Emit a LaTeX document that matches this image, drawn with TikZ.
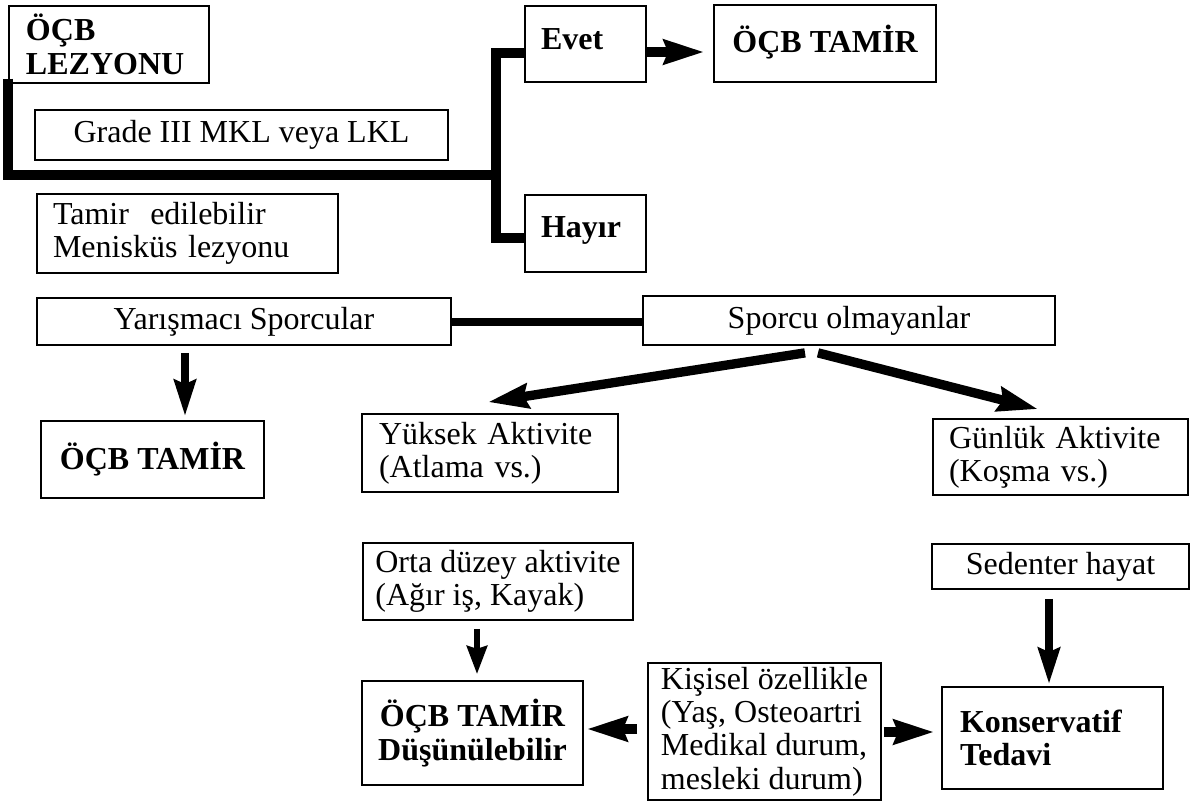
\documentclass[tikz,border=0pt]{standalone}
\usepackage{fontspec}
\setmainfont{Liberation Serif}
\usetikzlibrary{arrows.meta,calc}
\tikzset{
  box/.style={draw, line width=1.3pt, inner ysep=2pt, inner xsep=0pt, align=center,
              font=\fontsize{24}{25}\selectfont},
  bbox/.style={box, font=\fontsize{24}{25}\selectfont\bfseries},
  thk/.style={line width=7.5pt, line join=miter},
  bigarrow/.style={line width=7pt, -{Stealth[length=30pt,width=18pt,inset=3pt]}},
  midarrow/.style={line width=6pt, -{Stealth[length=27pt,width=16pt,inset=3pt]}},
  smallarrow/.style={line width=4.5pt, -{Stealth[length=21pt,width=15pt,inset=2pt]}},
}
\begin{document}
\begin{tikzpicture}[x=0.75pt,y=-0.75pt]
\useasboundingbox (0,0) rectangle (1194,804);

% top section
\node[bbox, minimum width=150pt, minimum height=57.75pt, inner xsep=12.75pt, text width=124.5pt, align=left] (lez) at (109,44.5) {ÖÇB\\LEZYONU};
\node[box, minimum width=309.75pt, minimum height=37.5pt] (grade) at (241.5,135) {Grade III MKL veya LKL};
\node[bbox, minimum width=90.75pt, minimum height=57pt, inner xsep=12pt, text width=66.75pt, align=left, text depth=8pt] (evet) at (585.5,44) {Evet};
\node[bbox, minimum width=166.5pt, minimum height=57.75pt, text depth=7pt] (tamir1) at (825,43.5) {ÖÇB TAMİR};
\node[bbox, minimum width=90.75pt, minimum height=57.75pt, inner xsep=12pt, text width=66.75pt, align=left, text depth=10pt] (hayir) at (585.5,233.5) {Hayır};
\node[box, minimum width=225.75pt, minimum height=59.25pt, inner xsep=12pt, text width=201.75pt, align=left] (tamired) at (187.5,233.5) {Tamir~ edilebilir\\Menisküs lezyonu};

\coordinate (j) at (496,175);
\draw[thk] ([yshift=4pt]lez.south west) |- (j);
\draw[thk] ($(evet.west)+(0,9)$) -| (j) |- ($(hayir.west)+(0,4)$);
\draw[bigarrow] ($(evet.east)+(0,8)$) -- ($(tamir1.west)+(-9,8.5)$);

% middle section
\node[box, minimum width=310.5pt, minimum height=35.25pt] (yaris) at (244,321.5) {Yarışmacı Sporcular};
\node[box, minimum width=309pt, minimum height=36.75pt] (sporcu) at (849,320.5) {Sporcu olmayanlar};
\draw[line width=6pt] (yaris.east) -- (yaris.east -| sporcu.west);

\node[bbox, minimum width=167.25pt, minimum height=57.75pt] (tamir2) at (152.5,459.5) {ÖÇB TAMİR};
\node[box, minimum width=192pt, minimum height=58.5pt, inner xsep=12.75pt, text width=166.5pt, align=left] (yuksek) at (490,453) {Yüksek Aktivite\\(Atlama vs.)};
\node[box, minimum width=191.25pt, minimum height=57pt, inner xsep=12pt, text width=167.25pt, align=left] (gunluk) at (1060.5,457) {Günlük Aktivite\\(Koşma vs.)};

\draw[midarrow] ($(yaris.south)+(-59,7)$) -- ($(tamir2.north)+(32.5,-4)$);
\draw[bigarrow] ($(sporcu.south)+(-44,7)$) -- ($(yuksek.north)+(-2,-11)$);
\draw[bigarrow] ($(sporcu.south)+(-31,7)$) -- ($(gunluk.north)+(-22.5,-9)$);

% bottom section
\node[box, minimum width=202.5pt, minimum height=57.75pt, align=left] (orta) at (498,581.5) {Orta düzey aktivite\\(Ağır iş, Kayak)};
\node[box, minimum width=192.75pt, minimum height=33.75pt] (sed) at (1060.5,566.5) {Sedenter hayat};
\node[bbox, minimum width=165.75pt, minimum height=78pt] (dusun) at (472.5,733) {ÖÇB TAMİR\\Düşünülebilir};
\node[box, minimum width=174.75pt, minimum height=102.75pt, align=left] (kisisel) at (764.5,731.5) {Kişisel özellikle\\(Yaş, Osteoartri\\Medikal durum,\\mesleki durum)};
\node[bbox, minimum width=165.75pt, minimum height=76.5pt, inner xsep=13.5pt, text width=138.75pt, align=left] (kons) at (1052.5,738) {Konservatif\\Tedavi};

\draw[smallarrow] ($(orta.south)+(-21,8)$) -- ($(dusun.north)+(4.5,-6)$);
\draw[bigarrow] ($(kisisel.west)+(-10,-2.5)$) -- ($(dusun.east)+(3,-4)$);
\draw[bigarrow] ($(kisisel.east)+(2,0.5)$) -- ($(kons.west)+(-7,-6)$);
\draw[midarrow] ($(sed.south)+(-11.5,9)$) -- ($(kons.north)+(-3.5,-2)$);
\end{tikzpicture}
\end{document}
